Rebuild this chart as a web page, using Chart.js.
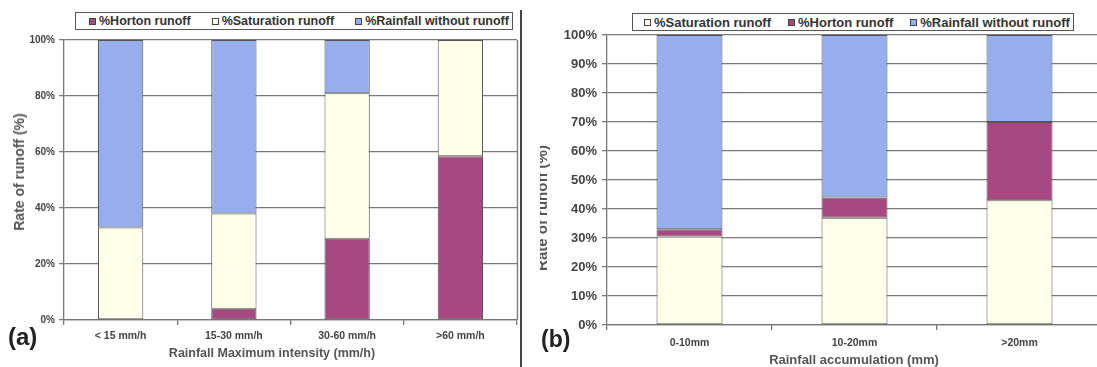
<!DOCTYPE html>
<html>
<head>
<meta charset="utf-8">
<script src="https://cdn.jsdelivr.net/npm/chart.js@4/dist/chart.umd.min.js"></script>
<style>
  html, body { margin:0; padding:0; background:#fff; width:1097px; height:367px; overflow:hidden;
    font-family:'Liberation Sans', Arial, sans-serif; }
  .pane { position:absolute; top:0; height:367px; }
  #paneA { left:0; width:520px; }
  #paneB { left:540px; width:557px; overflow:hidden; }
  canvas { position:absolute; left:0; top:0; }
  .legend { position:absolute; border:1px solid #555; background:#fff; display:flex; align-items:center;
    box-sizing:border-box; font-weight:bold; color:#333; white-space:nowrap; }
  .legend .item { display:flex; align-items:center; }
  .legend .sw { width:7px; height:7px; border:1px solid #444; margin-right:3px; box-sizing:border-box; }
  .ytitle { position:absolute; transform:translate(-50%,-50%) rotate(-90deg); white-space:nowrap; font-weight:bold; color:#555; }
  .xtitle { position:absolute; transform:translate(-50%,-50%); white-space:nowrap; font-weight:bold; color:#555; }
  .tag { position:absolute; font-weight:bold; color:#222; }
  #divider { position:absolute; left:520px; top:10px; width:2px; height:357px; background:#444; }
</style>
</head>
<body>
<div id="paneA" class="pane"><canvas id="chartA" width="520" height="367"></canvas></div>
<div id="paneB" class="pane">
  <canvas id="chartB" width="575" height="367"></canvas>
  <div class="ytitle" style="left:1px; top:208px; font-size:15px;">Rate of runoff (%)</div>
</div>
<div id="divider"></div>

<div id="legendA" class="legend" style="left:75px; top:12px; width:438px; height:18px; padding-left:13px; gap:21px; font-size:12.5px;"></div>
<div id="legendB" class="legend" style="left:632px; top:13px; width:442px; height:18px; padding-left:11px; gap:17px; font-size:13px;"></div>

<div class="ytitle" style="left:19px; top:172px; font-size:14px;">Rate of runoff (%)</div>
<div class="xtitle" style="left:272px; top:353px; font-size:12.5px;">Rainfall Maximum intensity (mm/h)</div>
<div class="xtitle" style="left:854px; top:359px; font-size:13px;">Rainfall accumulation (mm)</div>
<div class="tag" style="left:8px; top:323px; font-size:24px;">(a)</div>
<div class="tag" style="left:541px; top:326px; font-size:23px;">(b)</div>

<script>
// Panel (a): runoff share by maximum rainfall intensity
const categoriesA = ['< 15 mm/h', '15-30 mm/h', '30-60 mm/h', '>60 mm/h'];
const hortonA     = [0, 4, 29, 58.5];
const saturationA = [33, 34, 52, 41.5];
const noRunoffA   = [67, 62, 19, 0];

// Panel (b): runoff share by rainfall accumulation
const categoriesB = ['0-10mm', '10-20mm', '>20mm'];
const saturationB = [30.5, 37, 43];
const hortonB     = [2.5, 7, 27];
const noRunoffB   = [67, 56, 30];

const yStepA = 20;
const yStepB = 10;

const COLORS = {
  horton: '#A84882',
  saturation: '#FFFFEA',
  noRunoff: '#96AEEE'
};

Chart.defaults.font.family = "'Liberation Sans', Arial, sans-serif";

// right-hand border of the plot area
const frameRight = {
  id: 'frameRight',
  afterDraw(chart) {
    const { ctx, chartArea } = chart;
    ctx.save();
    ctx.strokeStyle = '#777';
    ctx.lineWidth = 1.3;
    ctx.beginPath();
    ctx.moveTo(Math.round(chartArea.right) + 0.5, chartArea.top);
    ctx.lineTo(Math.round(chartArea.right) + 0.5, chartArea.bottom);
    ctx.stroke();
    ctx.restore();
  }
};

function buildChart(id, o) {
  return new Chart(document.getElementById(id), {
    type: 'bar',
    data: {
      labels: o.labels,
      datasets: o.series.map(s => ({
        label: s.label,
        data: s.data,
        backgroundColor: s.color,
        borderColor: '#555',
        borderWidth: 1,
        borderSkipped: false,
        categoryPercentage: 1,
        barPercentage: 0.4
      }))
    },
    options: {
      responsive: false,
      animation: false,
      layout: { padding: { top: o.top, left: 0, right: o.right, bottom: 0 } },
      plugins: { legend: { display: false }, tooltip: { enabled: false } },
      scales: {
        x: {
          stacked: true,
          offset: true,
          grid: { offset: true, drawOnChartArea: false, tickLength: 5, color: '#777', lineWidth: 1.3 },
          border: { color: '#777', width: 1.3 },
          ticks: { font: { size: o.xTickSize, weight: 'bold' }, color: '#444', padding: o.xPad,
                   maxRotation: 0, autoSkip: false },
          afterFit(s) { s.height = o.xHeight; }
        },
        y: {
          stacked: true,
          min: 0,
          max: 100,
          ticks: { stepSize: o.step, callback: v => v + '%', font: { size: o.yTickSize, weight: 'bold' },
                   color: '#444', padding: o.yPad },
          grid: { color: '#7a7a7a', tickLength: 5, lineWidth: 1.3 },
          border: { color: '#777', width: 1.3 },
          afterFit(s) { s.width = o.yWidth; }
        }
      }
    },
    plugins: o.frame ? [frameRight] : []
  });
}

function buildLegend(id, series) {
  const box = document.getElementById(id);
  series.forEach(s => {
    const item = document.createElement('div');
    item.className = 'item';
    const sw = document.createElement('span');
    sw.className = 'sw';
    sw.style.background = s.color;
    const tx = document.createElement('span');
    tx.textContent = s.label;
    item.appendChild(sw);
    item.appendChild(tx);
    box.appendChild(item);
  });
}

const seriesA = [
  { label: '%Horton runoff', data: hortonA, color: COLORS.horton },
  { label: '%Saturation runoff', data: saturationA, color: COLORS.saturation },
  { label: '%Rainfall without runoff', data: noRunoffA, color: COLORS.noRunoff }
];
const seriesB = [
  { label: '%Saturation runoff', data: saturationB, color: COLORS.saturation },
  { label: '%Horton runoff', data: hortonB, color: COLORS.horton },
  { label: '%Rainfall without runoff', data: noRunoffB, color: COLORS.noRunoff }
];

buildChart('chartA', {
  labels: categoriesA, series: seriesA, step: yStepA,
  top: 40, right: 3, yWidth: 64, xHeight: 47,
  xTickSize: 10.5, xPad: 5, yTickSize: 10, yPad: 4, frame: true
});
buildChart('chartB', {
  labels: categoriesB, series: seriesB, step: yStepB,
  top: 35, right: 13, yWidth: 67, xHeight: 42,
  xTickSize: 10.5, xPad: 7, yTickSize: 13, yPad: 5, frame: false
});

buildLegend('legendA', seriesA);
buildLegend('legendB', seriesB);
</script>
</body>
</html>
